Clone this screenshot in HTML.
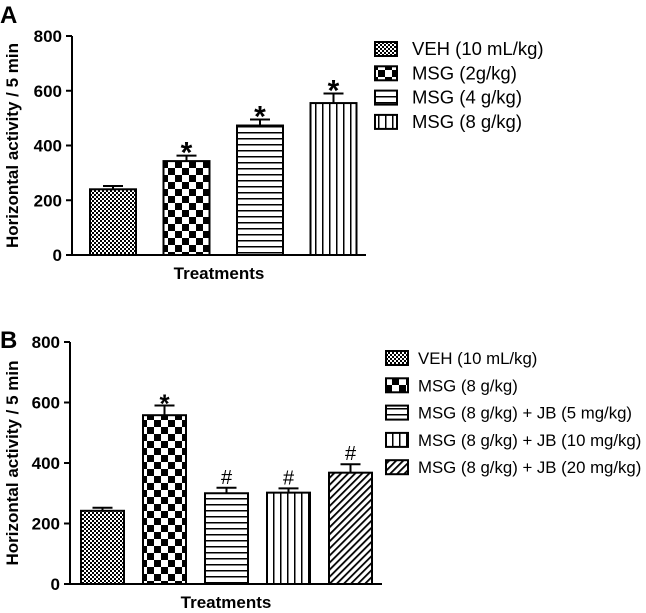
<!DOCTYPE html>
<html><head><meta charset="utf-8"><style>
body{margin:0;background:#fff}
svg{display:block;font-family:"Liberation Sans",Arial,sans-serif}
</style></head><body>
<svg width="646" height="613" viewBox="0 0 646 613">
<defs>
<pattern id="p0" width="4" height="4" patternUnits="userSpaceOnUse"><rect width="4" height="4" fill="#fff"/><rect width="2" height="2" fill="#000"/><rect x="2" y="2" width="2" height="2" fill="#000"/></pattern>
<pattern id="p1" width="14" height="14" patternUnits="userSpaceOnUse"><rect width="14" height="14" fill="#fff"/><rect width="7" height="7" fill="#000"/><rect x="7" y="7" width="7" height="7" fill="#000"/></pattern>
<pattern id="p2" width="6" height="6" patternUnits="userSpaceOnUse"><rect width="6" height="6" fill="#fff"/><rect y="0" width="6" height="1.5" fill="#000"/></pattern>
<pattern id="p3" width="7" height="7" patternUnits="userSpaceOnUse"><rect width="7" height="7" fill="#fff"/><rect x="0" width="1.5" height="7" fill="#000"/></pattern>
<pattern id="p4" width="5" height="5" patternUnits="userSpaceOnUse" patternTransform="rotate(45)"><rect width="5" height="5" fill="#fff"/><rect width="1.8" height="5" fill="#000"/></pattern>
</defs>
<g id="chartA"></g>
<g id="chartB"></g>
</svg>
<script>
const catsA=["VEH (10 mL/kg)","MSG (2g/kg)","MSG (4 g/kg)","MSG (8 g/kg)"];
const valsA=[240,343,473,555];
const errsA=[12,20,22,35];
const marksA=["","*","*","*"];
const patsA=[0,1,2,3];
const catsB=["VEH (10 mL/kg)","MSG (8 g/kg)","MSG (8 g/kg) + JB (5 mg/kg)","MSG (8 g/kg) + JB (10 mg/kg)","MSG (8 g/kg) + JB (20 mg/kg)"];
const valsB=[242,558,300,302,368];
const errsB=[10,32,18,14,28];
const marksB=["","*","#","#","#"];
const patsB=[0,1,2,3,4];
const ticks=[0,200,400,600,800];
const NS="http://www.w3.org/2000/svg";
function mk(p,t,a,txt){const e=document.createElementNS(NS,t);for(const k in a)e.setAttribute(k,a[k]);if(txt!==undefined)e.textContent=txt;p.appendChild(e);return e;}
function draw(g,cfg){
  const y=v=>cfg.y0-(v/800)*(cfg.y0-cfg.y800);
  const x=i=>cfg.c0+i*cfg.pitch;
  cfg.vals.forEach((v,i)=>{
    const r=mk(g,'rect',{x:x(i)-cfg.bw/2,y:y(v),width:cfg.bw,height:y(0)-y(v),fill:'url(#p'+cfg.pats[i]+')',stroke:'#000','stroke-width':2});
    
    
    const ey=y(v+cfg.errs[i]);
    const e=mk(g,'path',{d:`M${x(i)} ${y(v)}V${ey}M${x(i)-10} ${ey}H${x(i)+10}`,stroke:'#000','stroke-width':2,fill:'none'});
    
    
    if(cfg.marks[i]){
      const isStar=cfg.marks[i]==='*';
      const t=mk(g,'text',{x:x(i),y:ey-(isStar?-7:4),'text-anchor':'middle','font-size':isStar?cfg.starSize:20,'font-weight':isStar?'bold':'normal'},cfg.marks[i]);
      
      
    }
  });
  const ax=mk(g,'path',{d:`M${cfg.ax} ${cfg.y800}V${cfg.y0}H${cfg.axEnd}`,stroke:'#000','stroke-width':2,fill:'none'});
  
  
  ticks.forEach(t=>{
    mk(g,'line',{x1:cfg.ax-6,x2:cfg.ax,y1:y(t),y2:y(t),stroke:'#000','stroke-width':2});
    const l=mk(g,'text',{x:cfg.ax-10,y:y(t)+6,'text-anchor':'end','font-size':17,'font-weight':'bold'},t);
    
    
  });
  const yt=mk(g,'text',{x:0,y:0,transform:`translate(18 ${(cfg.y0+cfg.y800)/2}) rotate(-90)`,'text-anchor':'middle','font-size':17,'font-weight':'bold'},'Horizontal activity / 5 min');
  
  
  const xt=mk(g,'text',{x:(cfg.ax+cfg.axEnd)/2,y:cfg.y0+24,'text-anchor':'middle','font-size':17,'font-weight':'bold'},'Treatments');
  
  
  const pl=mk(g,'text',{x:0,y:cfg.labelY,'font-size':24,'font-weight':'bold'},cfg.label);
  
  
  cfg.cats.forEach((c,i)=>{
    const ly=cfg.legY+i*cfg.legPitch;
    const s=mk(g,'rect',{x:cfg.legX,y:ly-7,width:22,height:14,fill:'url(#p'+cfg.pats[i]+')',stroke:'#000','stroke-width':2});
    
    
    const t=mk(g,'text',{x:cfg.legX+cfg.legGap,y:ly+6,'font-size':cfg.legFont},c);
    
    
  });
}
draw(document.getElementById('chartA'),{vals:valsA,errs:errsA,marks:marksA,pats:patsA,cats:catsA,y0:255,y800:36,ax:72,axEnd:366,c0:113,pitch:73.5,bw:46,label:'A',labelY:23,legX:375,legY:49,legPitch:24.3,legFont:18.5,legGap:37,starSize:30});
draw(document.getElementById('chartB'),{vals:valsB,errs:errsB,marks:marksB,pats:patsB,cats:catsB,y0:584,y800:342,ax:70,axEnd:382,c0:102.5,pitch:62,bw:43,label:'B',labelY:348,legX:386,legY:358,legPitch:27.3,legFont:16.8,legGap:32,starSize:26});
</script>
</body></html>
